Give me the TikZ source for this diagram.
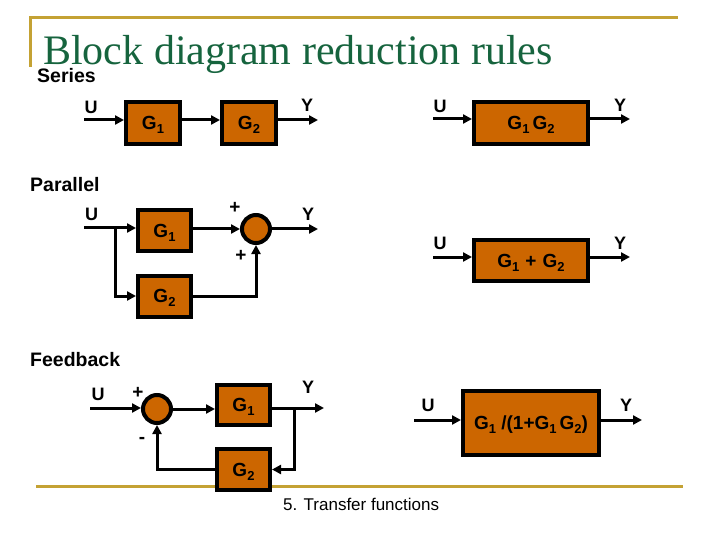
\documentclass[tikz,border=0pt]{standalone}
\usepackage{fontspec}
\setmainfont{Liberation Sans}
\newfontfamily\titlefont{Liberation Serif}
\usetikzlibrary{arrows.meta}
\definecolor{gold}{RGB}{196,162,52}
\definecolor{boxfill}{RGB}{204,102,0}
\definecolor{titlegreen}{RGB}{22,100,62}
\newcommand{\sbs}[1]{\raisebox{-4pt}{\fontsize{13}{13}\selectfont #1}}
\begin{document}
\begin{tikzpicture}[x=1pt,y=-1pt,
  blk/.style={draw=black,line width=4pt,fill=boxfill,inner sep=0pt,text depth=0pt,font=\fontsize{19}{19}\selectfont\bfseries},
  sumc/.style={circle,draw=black,line width=4pt,fill=boxfill,minimum size=28pt,inner sep=0pt},
  sig/.style={line width=3pt,-{Triangle[length=9pt,width=9pt]}},
  wire/.style={line width=3pt},
  lbl/.style={font=\fontsize{18}{18}\selectfont\bfseries,inner sep=0pt},
  sgn/.style={font=\fontsize{19}{19}\selectfont\bfseries,inner sep=0pt},
  head/.style={font=\fontsize{19.5}{20}\selectfont\bfseries,inner sep=0pt,anchor=base west},
  rule/.style={draw=gold,line width=3pt}]
\useasboundingbox (0,0) rectangle (720,540);

% decorative rules
\coordinate (r1a) at (29,18); \coordinate (r1b) at (678,18);
\coordinate (r2a) at (30.5,18); \coordinate (r2b) at (30.5,67);
\coordinate (r3a) at (36,486); \coordinate (r3b) at (683,486);
\draw[rule] (r1a) -- (r1b);
\draw[rule] (r2a) -- (r2b);
\draw[rule] (r3a) -- (r3b);

% titles
\node[anchor=base west,inner sep=0pt,text=titlegreen,font=\titlefont\fontsize{42}{42}\selectfont] (title) at (43,65) {Block diagram reduction rules};
\node[head] (hser) at (37,83) {Series};
\node[head] (hpar) at (30,192) {Parallel};
\node[head] (hfb) at (30,366) {Feedback};
\node[anchor=base west,inner sep=0pt,font=\fontsize{17}{17}\selectfont] (foot) at (283,510) {5. Transfer functions};

% ---------- Series (left)
\coordinate (s1in) at (84,120);
\coordinate (s1out) at (318,120);
\node[blk,minimum width=54pt,minimum height=42pt] (sG1) at (153,123) {G\sbs{1}};
\node[blk,minimum width=54pt,minimum height=42pt] (sG2) at (249,123) {G\sbs{2}};
\draw[sig] (s1in) -- (s1in -| sG1.west);
\draw[sig] (sG1.east |- s1in) -- (s1in -| sG2.west);
\draw[sig] (sG2.east |- s1in) -- (s1out);
\node[lbl] (sU1) at (91,107) {U};
\node[lbl] (sY1) at (307,105) {Y};

% ---------- Series (right)
\coordinate (s2in) at (433,119);
\coordinate (s2out) at (630,119);
\node[blk,minimum width=114pt,minimum height=42pt] (sG12) at (531,123) {G\sbs{1}\hspace{3pt}G\sbs{2}};
\draw[sig] (s2in) -- (s2in -| sG12.west);
\draw[sig] (sG12.east |- s2in) -- (s2out);
\node[lbl] (sU2) at (440,106) {U};
\node[lbl] (sY2) at (620,105) {Y};

% ---------- Parallel (left)
\coordinate (pin) at (84,228);
\coordinate (pbr) at (115,228);
\coordinate (pout) at (318,229);
\node[blk,minimum width=53pt,minimum height=41pt] (pG1) at (164.5,230.5) {G\sbs{1}};
\node[blk,minimum width=53pt,minimum height=41pt] (pG2) at (164.5,296) {G\sbs{2}};
\node[sumc] (pS) at (256,229) {};
\draw[wire] (pin) -- (pbr);
\draw[sig] (pbr) -- (pbr -| pG1.west);
\draw[sig] (pbr) |- (pG2.west);
\draw[sig] (pG1.east |- pS) -- (pS.west);
\draw[sig] (pS.east) -- (pout);
\draw[sig] (pG2.east) -| (pS.south);
\node[lbl] (pU) at (91.5,214.5) {U};
\node[lbl] (pY) at (308,214) {Y};
\node[sgn] (pp1) at (235,208) {+};
\node[sgn] (pp2) at (241,256) {+};

% ---------- Parallel (right)
\coordinate (p2in) at (433,257);
\coordinate (p2out) at (630,257);
\node[blk,minimum width=114pt,minimum height=41pt] (pG12) at (531,260.5) {G\sbs{1}\hspace{6pt}+\hspace{6pt}G\sbs{2}};
\draw[sig] (p2in) -- (p2in -| pG12.west);
\draw[sig] (pG12.east |- p2in) -- (p2out);
\node[lbl] (pU2) at (440,243.5) {U};
\node[lbl] (pY2) at (620,243) {Y};

% ---------- Feedback (left)
\coordinate (fin) at (90,408);
\coordinate (fbr) at (294,408);
\coordinate (fout) at (324,408);
\node[sumc] (fS) at (157,409) {};
\node[blk,minimum width=53pt,minimum height=40pt] (fG1) at (243.5,405) {G\sbs{1}};
\node[blk,minimum width=53pt,minimum height=41pt] (fG2) at (243.5,469.5) {G\sbs{2}};
\draw[sig] (fin) -- (fin -| fS.west);
\draw[sig] (fS.east) -- (fS.east -| fG1.west);
\draw[wire] (fG1.east |- fbr) -- (fbr);
\draw[sig] (fbr) -- (fout);
\draw[sig] (fbr) |- (fG2.east);
\draw[sig] (fG2.west) -| (fS.south);
\node[lbl] (fU) at (98,394) {U};
\node[lbl] (fY) at (308,387) {Y};
\node[sgn] (fp) at (138,393) {+};
\node[sgn] (fm) at (142,440) {-};

% ---------- Feedback (right)
\coordinate (f2in) at (414,420);
\coordinate (f2out) at (642,420);
\node[blk,minimum width=136pt,minimum height=64pt] (fG12) at (531,423) {G\sbs{1} /(1+G\sbs{1}\hspace{3pt}G\sbs{2})};
\draw[sig] (f2in) -- (f2in -| fG12.west);
\draw[sig] (fG12.east |- f2in) -- (f2out);
\node[lbl] (fU2) at (428,405) {U};
\node[lbl] (fY2) at (626,405) {Y};
\end{tikzpicture}
\end{document}
